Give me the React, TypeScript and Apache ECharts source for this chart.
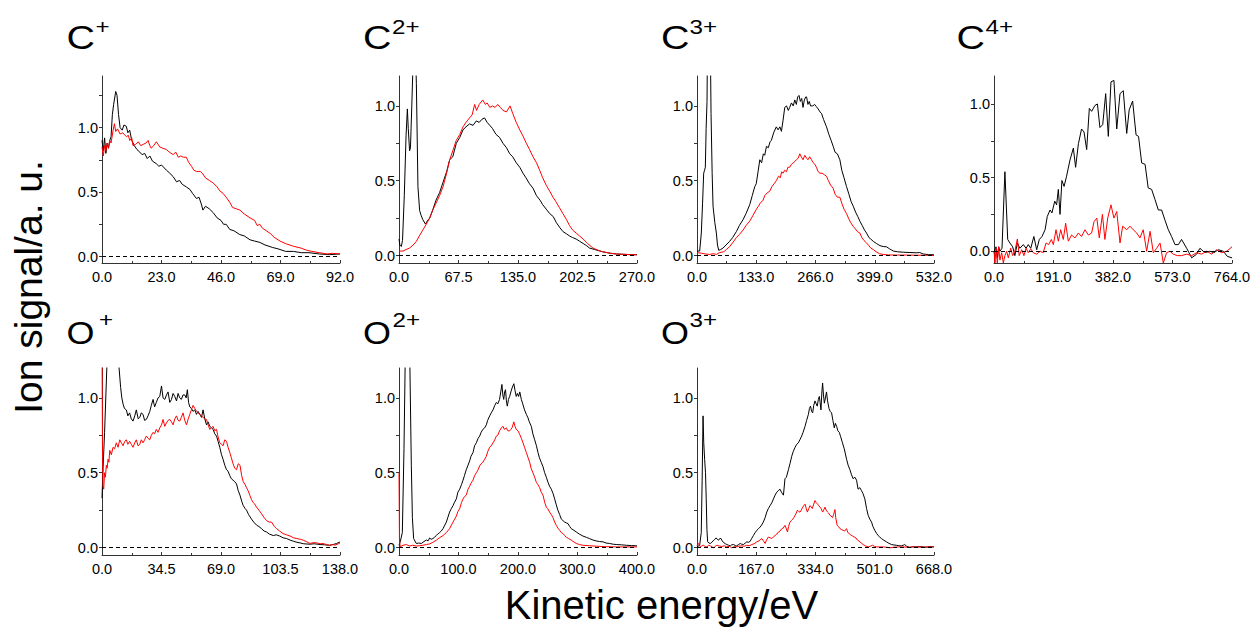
import React, { useEffect, useRef } from "react";
import * as echarts from "echarts";

// ---------- DATA: [kinetic energy (eV), ion signal (a.u.)] ----------
const cPlusBlack = [[0,0.90],[0.5,0.82],[1,0.92],[1.5,0.80],[2,0.88],[2.5,0.84],[3,0.90],[3.5,0.93],[4,1.10],[4.5,1.18],[5.3,1.28],[5.8,1.25],[6.4,1.10],[7,1.00],[7.8,0.98],[8.5,1.02],[9.4,1.01],[10,0.96],[10.7,0.98],[11.5,0.90],[12.5,0.86],[13.5,0.83],[14.6,0.81],[15.5,0.79],[16.5,0.80],[17.5,0.76],[18.5,0.78],[19.5,0.74],[21,0.72],[22,0.70],[23,0.71],[24.9,0.67],[26,0.65],[27.5,0.62],[28.8,0.58],[30,0.59],[31,0.56],[32.6,0.54],[34,0.52],[35,0.49],[36.5,0.45],[37.5,0.46],[38.5,0.40],[39,0.36],[40,0.39],[41.5,0.37],[43,0.34],[44.5,0.30],[46,0.28],[47,0.25],[48,0.25],[49.4,0.21],[51,0.20],[53.3,0.17],[55,0.16],[57.2,0.13],[59,0.12],[61,0.11],[63,0.09],[66,0.07],[68,0.06],[71,0.04],[74,0.04],[77,0.03],[80,0.03],[84,0.02],[88,0.015],[92,0.02]];
const cPlusRed = [[0,0.85],[0.5,0.78],[1,0.86],[1.5,0.82],[2,0.88],[2.5,0.84],[3,0.90],[3.5,0.88],[4.3,0.98],[4.8,1.03],[5.3,0.97],[6,0.99],[7,0.95],[8,0.96],[9.4,0.93],[10.2,0.94],[10.7,0.90],[11.5,0.92],[12,0.86],[13,0.87],[14,0.89],[15,0.86],[15.9,0.87],[17,0.88],[17.8,0.90],[18.5,0.86],[19,0.84],[20,0.86],[21,0.89],[21.7,0.87],[22.3,0.85],[23.5,0.84],[24.9,0.83],[26,0.81],[27.5,0.79],[28.5,0.81],[29.5,0.77],[30.5,0.78],[31.5,0.77],[32.6,0.77],[33.5,0.73],[34.6,0.70],[35.5,0.67],[36.5,0.66],[38,0.66],[39,0.64],[40,0.61],[41.5,0.59],[43,0.57],[44.5,0.54],[45.5,0.51],[46.8,0.49],[48,0.46],[49.4,0.42],[50.5,0.38],[52,0.37],[53.3,0.36],[55,0.33],[57.2,0.30],[59,0.28],[60,0.24],[61,0.25],[62,0.22],[63.5,0.20],[65,0.18],[66.5,0.15],[68.8,0.12],[71,0.10],[74,0.08],[77,0.065],[79,0.05],[81,0.04],[84,0.03],[87,0.02],[89,0.025],[92,0.02]];

const c2Black = [[0,0.11],[1,0.07],[2.6,0.06],[4,0.10],[6,0.40],[8,0.80],[9.5,0.98],[10.5,0.85],[12,0.70],[13,0.72],[14.5,1.00],[16,1.3],[17,1.5],[18.5,1.4],[19.7,1.15],[21.5,0.46],[23.4,0.30],[25,0.27],[27,0.24],[30,0.21],[32,0.23],[34.8,0.25],[38,0.30],[42,0.37],[46,0.42],[50,0.49],[54,0.56],[57.5,0.64],[61,0.66],[65,0.75],[69,0.79],[72.6,0.84],[76,0.86],[80,0.88],[84,0.87],[87.7,0.90],[91,0.89],[94,0.91],[97,0.92],[100,0.89],[103,0.87],[106,0.85],[110,0.81],[114,0.79],[118,0.75],[122,0.72],[125.6,0.68],[129,0.66],[133,0.62],[137,0.59],[140.7,0.55],[144,0.52],[148,0.48],[152,0.45],[156,0.40],[160,0.37],[163,0.34],[167,0.31],[171,0.28],[175,0.26],[178.5,0.22],[182,0.19],[186,0.16],[190,0.145],[193.6,0.13],[197,0.12],[201,0.11],[205,0.095],[209,0.08],[213,0.065],[216,0.05],[222,0.04],[231,0.025],[240,0.015],[246.6,0.01],[255,0.008],[262,0.006],[270,0.005]];
const c2Red = [[0,0.03],[4.5,0.03],[8,0.04],[12,0.05],[16,0.07],[19.7,0.095],[23,0.13],[27,0.17],[31,0.21],[34.8,0.25],[38,0.30],[42,0.35],[46,0.40],[50,0.46],[54,0.55],[57.5,0.64],[61,0.70],[65,0.77],[69,0.81],[72.6,0.86],[76,0.89],[80,0.92],[83,0.94],[85.8,1.01],[88,0.97],[91,1.01],[95,1.04],[98,1.01],[100,1.02],[103,0.99],[106,1.00],[109,0.99],[112,1.01],[115,0.99],[118,0.97],[121.8,0.96],[124,0.98],[126,1.00],[129,0.95],[133,0.89],[137,0.84],[140.5,0.80],[144.5,0.75],[148,0.71],[152,0.66],[156,0.62],[159.6,0.57],[163,0.52],[167,0.47],[171,0.43],[174.7,0.39],[178,0.36],[182,0.32],[186,0.28],[190,0.24],[193.5,0.20],[197,0.17],[201,0.15],[205,0.13],[209,0.11],[214,0.08],[220,0.05],[226,0.035],[231,0.025],[240,0.015],[246.6,0.01],[255,0.008],[262,0.006],[270,0.005]];

const c3Black = [[0,0.03],[6,0.03],[9.7,0.15],[12.5,0.35],[15,0.55],[17,0.57],[18.7,0.59],[20.5,0.85],[22.5,1.03],[24,1.6],[25.5,2.2],[27,2.4],[28.5,2.0],[30,1.4],[31.5,0.95],[34,0.55],[36,0.33],[40,0.22],[43.5,0.15],[46,0.07],[48.7,0.035],[53,0.04],[58.4,0.05],[65,0.07],[73.4,0.095],[80,0.12],[88.4,0.16],[95,0.20],[103.4,0.24],[110,0.28],[118.4,0.34],[124,0.40],[129.6,0.46],[133,0.48],[137,0.56],[141,0.64],[145,0.62],[149,0.68],[152,0.67],[156,0.73],[160,0.72],[164,0.76],[167,0.77],[172,0.82],[178,0.86],[182,0.84],[186,0.86],[189.5,0.83],[193,0.90],[197,0.99],[201,1.00],[205,0.97],[208,0.99],[212,1.02],[216,1.00],[219.5,1.04],[223,1.01],[226,1.06],[229,1.07],[232,1.03],[235,1.05],[238,0.99],[241,1.04],[244,1.06],[246,1.06],[249,1.01],[252,1.03],[255,1.00],[260,1.00],[264,1.01],[268,0.995],[272,0.98],[276,0.96],[279.5,0.95],[284,0.91],[290.7,0.86],[296,0.81],[301,0.77],[305.7,0.73],[310,0.69],[315,0.68],[320.7,0.64],[325,0.57],[330,0.52],[335.7,0.46],[341,0.41],[346,0.36],[350.7,0.33],[356,0.29],[361,0.26],[365.6,0.23],[371,0.20],[376,0.17],[380.6,0.15],[386,0.12],[390,0.11],[395.6,0.095],[403,0.08],[410.6,0.066],[418,0.06],[425.6,0.058],[432,0.045],[440.6,0.03],[450,0.025],[463,0.022],[478,0.02],[493,0.018],[500,0.02],[508,0.01],[520,0.006],[532,0.005]];
const c3Red = [[0,0.02],[10,0.015],[20,0.01],[28.5,0.007],[36,0.012],[44,0.008],[51,0.02],[60,0.025],[66,0.04],[73.4,0.06],[80,0.085],[88.4,0.12],[95,0.14],[103.4,0.17],[110,0.20],[118.4,0.23],[126,0.27],[133.4,0.31],[138,0.33],[142,0.35],[148.4,0.37],[152,0.40],[158,0.42],[163.4,0.43],[168,0.46],[173,0.48],[178,0.50],[183,0.53],[187,0.52],[190,0.56],[193,0.55],[197,0.57],[201,0.56],[204,0.59],[208,0.59],[212,0.61],[216,0.62],[220,0.63],[223,0.64],[227,0.65],[230.8,0.68],[234,0.66],[238,0.64],[242,0.67],[246,0.65],[249,0.64],[253,0.66],[257,0.64],[261,0.62],[264.5,0.61],[268,0.59],[272,0.56],[276,0.55],[281,0.55],[286,0.54],[290.7,0.53],[295,0.50],[300,0.47],[305.7,0.45],[310,0.41],[315,0.39],[320.7,0.39],[325,0.35],[330,0.31],[335.7,0.28],[340,0.25],[345,0.22],[350.7,0.195],[355,0.18],[360,0.16],[365.6,0.15],[370,0.12],[375,0.10],[380.6,0.084],[386,0.065],[390,0.05],[395.6,0.04],[402,0.025],[410,0.012],[418,0.007],[430,0.004],[450,0.003],[470,0.003],[490,0.002],[510,0.002],[532,0.0]];

const c4Black = [[0,-0.01],[6.4,0.03],[10.7,-0.045],[15,0.03],[19,0],[25.7,0.02],[35,0.54],[44,0.08],[51,0.056],[60,0.03],[67,-0.03],[75,0.056],[83,0.02],[94,0.045],[103,0.02],[110,0.045],[118,0.02],[128,0.10],[137,0.01],[145.5,0.08],[154,0.10],[164,0.146],[171,0.236],[180,0.28],[186,0.26],[195,0.34],[201,0.315],[206.5,0.42],[212,0.25],[218,0.48],[225,0.44],[233,0.51],[244,0.62],[254.7,0.70],[262,0.57],[271,0.73],[281,0.83],[289,0.81],[297.5,0.69],[306,0.97],[313.5,0.95],[324,0.99],[332,1.00],[340,0.84],[349,0.86],[358.5,1.07],[367,0.78],[375.5,1.15],[385,1.16],[394,0.83],[404.5,1.07],[415,1.09],[426,0.80],[434,0.96],[445,1.02],[456,0.79],[464,0.78],[474,0.60],[485,0.59],[495,0.43],[506,0.42],[517,0.35],[527.5,0.28],[538,0.28],[549,0.21],[559.6,0.146],[570,0.10],[581,0.045],[592,0.045],[602,0.08],[618.5,0.02],[634.5,-0.045],[650.5,-0.02],[661,0.02],[677,-0.01],[693,0],[706,-0.01],[720,0.01],[736,0],[749,-0.035],[764,-0.045]];
const c4Red = [[0,0],[3.2,-0.08],[6.4,0.02],[10.7,-0.08],[15,0.03],[19,-0.06],[24.6,-0.01],[30,-0.08],[35,-0.03],[40.6,0],[46,-0.045],[53.5,0.02],[60,-0.03],[67,0],[75,0.083],[81,-0.03],[89,0.01],[96,-0.03],[103,0.02],[110,-0.01],[118,0.016],[126,-0.01],[137,-0.02],[148,0],[158,-0.01],[167,0.056],[175.5,0.045],[184,0.08],[190.5,0.045],[199,0.146],[206.5,0.068],[214,0.146],[222.5,0.08],[230,0.19],[238.6,0.068],[249,0.11],[260,0.09],[271,0.124],[281,0.10],[292,0.146],[303,0.11],[313.5,0.124],[321,0.20],[330,0.225],[338,0.09],[348,0.25],[356,0.08],[365,0.225],[375.5,0.315],[385,0.225],[394,0.27],[404.5,0.056],[413,0.17],[426,0.146],[436.6,0.17],[447,0.146],[458,0.124],[468.5,0.09],[479,0.146],[490,0],[501,0.135],[511.5,-0.01],[522,0.02],[533,0.056],[543.5,-0.08],[554,-0.01],[565,0],[575.6,-0.02],[588.5,-0.03],[602,-0.03],[618.5,-0.02],[634.5,-0.03],[650.5,-0.01],[666.5,-0.02],[682.6,0],[698.6,-0.02],[714.7,0.01],[730.8,-0.01],[747,0],[764,0.03]];

const oPlusBlack = [[0,0.33],[0.5,0.5],[1.5,0.77],[2.5,1.1],[3.1,1.3],[4,1.6],[6,1.8],[8,1.5],[9.9,1.2],[10.8,1.07],[11.5,1.00],[12.2,0.96],[13,0.93],[14.1,0.92],[15,0.88],[16,0.90],[17,0.86],[18,0.845],[19,0.88],[19.9,0.92],[21,0.86],[21.9,0.87],[22.8,0.90],[23.8,0.89],[24.7,0.85],[25.7,0.856],[26.7,0.88],[27.7,0.91],[28.6,0.95],[29.6,0.99],[30.5,0.94],[31.5,0.97],[32.5,1.00],[33.5,1.01],[34.5,1.08],[35.4,1.00],[36.4,0.99],[37.4,1.02],[38.3,1.04],[39.3,0.97],[40.3,0.99],[41.2,1.03],[42.2,1.01],[43.2,0.98],[44.1,1.03],[45.1,1.00],[46,0.99],[47,1.02],[48,1.02],[48.8,1.00],[49.5,1.055],[50.2,0.97],[50.9,0.94],[51.8,0.93],[52.8,0.91],[53.8,0.92],[54.8,0.89],[55.7,0.91],[56.7,0.89],[57.7,0.87],[58.6,0.92],[59.6,0.86],[60.6,0.82],[61.5,0.84],[62.5,0.81],[63.5,0.80],[64.4,0.79],[65.4,0.76],[66.4,0.745],[67.3,0.71],[68.3,0.67],[69.3,0.62],[70.2,0.59],[71.2,0.55],[72.2,0.52],[73.1,0.51],[74.1,0.48],[75,0.46],[76,0.45],[77,0.44],[78,0.425],[79,0.38],[80,0.35],[81,0.31],[81.9,0.28],[83,0.26],[83.8,0.25],[85,0.22],[86.7,0.19],[88,0.17],[89.6,0.15],[91,0.14],[92.5,0.126],[94,0.11],[95.4,0.104],[97,0.09],[99.3,0.08],[101,0.085],[103,0.077],[105,0.065],[107,0.06],[109,0.05],[111,0.042],[113,0.035],[114.8,0.031],[117,0.025],[120.6,0.022],[123,0.025],[126.4,0.02],[129,0.018],[132,0.015],[134,0.02],[136,0.027],[138,0.037]];
const oPlusRed = [[0,1.4],[0.3,0.6],[0.6,0.41],[1,0.39],[1.5,0.50],[2,0.47],[2.5,0.55],[3,0.53],[3.5,0.59],[4,0.57],[4.5,0.65],[5.4,0.62],[6.4,0.67],[7.3,0.66],[8.3,0.70],[9.3,0.67],[10.3,0.72],[11.2,0.70],[12.2,0.68],[13.2,0.71],[14.1,0.72],[15,0.69],[16,0.71],[17,0.69],[18,0.67],[19,0.70],[19.9,0.72],[20.9,0.68],[21.9,0.69],[22.8,0.72],[23.8,0.70],[24.7,0.72],[25.7,0.745],[26.7,0.73],[27.7,0.72],[28.6,0.75],[29.6,0.77],[30.5,0.76],[31.5,0.79],[32.5,0.77],[33.5,0.80],[34.5,0.82],[35.4,0.856],[36.4,0.81],[37.4,0.834],[38.3,0.85],[39.3,0.856],[40.3,0.84],[41.2,0.82],[42.2,0.86],[43.2,0.88],[44.1,0.85],[45.1,0.845],[46,0.87],[47,0.90],[48,0.85],[49,0.82],[50,0.86],[50.9,0.89],[51.8,0.92],[52.8,0.95],[53.8,0.93],[54.8,0.91],[55.7,0.90],[56.7,0.89],[57.7,0.88],[58.6,0.87],[59.6,0.86],[60.6,0.856],[61.5,0.82],[62.5,0.79],[63.5,0.80],[64.4,0.81],[65.4,0.78],[66.4,0.79],[67.3,0.74],[68.3,0.70],[69.3,0.69],[70.2,0.68],[71.2,0.72],[72.2,0.71],[73.1,0.67],[74.1,0.635],[75,0.60],[76,0.56],[77,0.53],[78,0.52],[79,0.56],[80,0.55],[81,0.48],[81.9,0.44],[83,0.42],[83.8,0.40],[84.7,0.38],[85.7,0.35],[86.7,0.32],[87.7,0.30],[88.6,0.29],[89.6,0.27],[91,0.25],[92.5,0.226],[94,0.20],[95.4,0.18],[97,0.17],[98.3,0.17],[100,0.14],[101.2,0.126],[103,0.11],[105,0.093],[107,0.085],[109,0.077],[111,0.065],[113,0.06],[115,0.055],[116.7,0.049],[118.5,0.04],[120.6,0.027],[122.5,0.033],[124.4,0.031],[126.5,0.025],[128.3,0.027],[130,0.02],[132,0.015],[134,0.02],[135,0.015],[137,0.025],[138,0.031]];

const o2Black = [[0,0.015],[2.2,0.04],[5.6,0.10],[8.4,0.66],[10.6,1.3],[12,2.0],[14,2.3],[16,2.0],[18,1.3],[20.7,0.55],[22.5,0.2],[24.6,0.06],[29,0.027],[33,0.03],[37.5,0.027],[42,0.04],[46,0.05],[49,0.045],[51.5,0.064],[54,0.055],[57,0.06],[60,0.07],[62.7,0.08],[65,0.09],[68.3,0.10],[71,0.11],[74,0.126],[77,0.15],[79.6,0.17],[82,0.20],[85,0.237],[88,0.26],[90.8,0.28],[93,0.30],[96.4,0.325],[99,0.37],[102,0.39],[105,0.42],[107.6,0.45],[110,0.48],[113,0.52],[116,0.55],[118.8,0.58],[121,0.61],[124.4,0.635],[127,0.68],[130,0.70],[133,0.73],[135.6,0.745],[138,0.77],[141,0.79],[144,0.80],[146.8,0.82],[149,0.85],[152.4,0.88],[155,0.90],[158,0.92],[161,0.95],[163.6,0.97],[166,0.96],[169,0.99],[171,1.04],[173,1.09],[174.5,1.02],[176,0.99],[177.5,1.04],[179,1.055],[180.5,0.98],[182,0.945],[184,0.99],[186,1.01],[188,1.04],[190,1.066],[193,1.095],[195,1.05],[197,1.01],[199,1.03],[201,1.01],[203,1.04],[205.6,0.99],[208,0.96],[211,0.92],[214,0.89],[216.8,0.867],[219,0.84],[222.4,0.81],[225,0.76],[228,0.72],[231,0.68],[233.6,0.635],[236,0.60],[239,0.57],[242,0.54],[244.8,0.50],[247.6,0.47],[250.4,0.436],[253,0.41],[256,0.39],[259,0.36],[261.6,0.325],[264,0.29],[267,0.25],[270,0.22],[272.8,0.19],[275.6,0.18],[278.4,0.17],[281,0.165],[284,0.16],[287,0.14],[289.6,0.126],[294,0.115],[298,0.104],[303,0.09],[309,0.077],[315,0.068],[320,0.06],[326,0.05],[331.6,0.044],[337,0.04],[342.9,0.038],[348,0.03],[354,0.027],[360,0.022],[365,0.02],[374,0.018],[382,0.015],[391,0.013],[400,0.011]];
const o2Red = [[0,0.5],[0.8,0.05],[2,0.005],[6.7,0.015],[12.3,0.02],[18,0.01],[23,0.015],[29,0.01],[34,0.012],[40,0.015],[46,0.02],[51.5,0.024],[57,0.035],[62.7,0.049],[68,0.065],[74,0.08],[79.6,0.10],[85,0.126],[88,0.15],[90.8,0.17],[93.6,0.19],[96.4,0.21],[99,0.24],[102,0.26],[105,0.30],[107.6,0.325],[110,0.34],[113,0.35],[116,0.39],[118.8,0.41],[121,0.43],[124.4,0.45],[127,0.48],[130,0.50],[133,0.52],[135.6,0.546],[138,0.56],[141,0.57],[144,0.59],[146.8,0.61],[149,0.64],[152.4,0.67],[155,0.68],[158,0.70],[161,0.72],[163.6,0.745],[166,0.75],[169,0.78],[172,0.80],[174.8,0.81],[177,0.79],[180.4,0.80],[183,0.78],[186,0.78],[188,0.79],[190,0.80],[193,0.84],[195,0.81],[197,0.79],[200,0.78],[202.8,0.757],[205.6,0.73],[208.4,0.70],[211,0.67],[214,0.635],[217,0.60],[219.6,0.57],[222,0.53],[225,0.50],[228,0.47],[230.8,0.436],[233.6,0.42],[236.4,0.40],[239,0.37],[242,0.35],[245,0.30],[247.6,0.27],[250,0.26],[253,0.237],[256,0.22],[258.8,0.20],[261.6,0.17],[264.4,0.148],[267,0.13],[270,0.115],[272.8,0.10],[275.6,0.093],[278.4,0.08],[281,0.07],[285,0.06],[289.6,0.049],[294,0.037],[298,0.027],[303,0.02],[309,0.015],[320,0.012],[331.6,0.009],[345,0.006],[365,0.004],[385,0.004],[400,0.004]];

const o3Black = [[0,0.004],[7.5,0.015],[12,0.10],[14.5,0.45],[17,0.88],[19,0.70],[21.5,0.59],[24,0.50],[26,0.325],[28,0.12],[30,0.038],[34,0.03],[37.5,0.027],[42,0.035],[47,0.049],[50,0.055],[54,0.064],[57,0.055],[61,0.049],[64,0.06],[67.5,0.06],[71,0.045],[75,0.033],[80,0.025],[84,0.02],[89,0.015],[93.7,0.011],[98,0.018],[103,0.02],[108,0.013],[112,0.011],[117,0.02],[122,0.027],[126,0.022],[131,0.02],[136,0.03],[140.5,0.038],[145,0.035],[150,0.042],[154,0.06],[159,0.08],[164,0.10],[168.6,0.115],[173,0.125],[178,0.137],[182,0.15],[187,0.17],[192,0.20],[196.7,0.237],[201,0.26],[206,0.28],[211,0.30],[215.5,0.325],[220,0.35],[225,0.37],[229,0.38],[234,0.39],[238,0.37],[243.6,0.35],[248,0.46],[252,0.47],[257.6,0.52],[262,0.56],[267,0.61],[271,0.64],[276.5,0.67],[281,0.69],[285.7,0.70],[290,0.72],[295,0.745],[299,0.77],[304.5,0.81],[309,0.85],[314,0.89],[317,0.93],[320,0.945],[323,0.91],[326,0.90],[329,0.95],[332.6,0.98],[336,0.96],[339,0.945],[342,0.99],[344.8,1.01],[347,0.97],[349.4,0.92],[352,1.04],[354,1.10],[356.5,1.02],[359,0.965],[362,1.00],[365,1.04],[368,0.98],[372,0.93],[375.5,0.91],[379.4,0.90],[383,0.85],[387,0.80],[390,0.83],[393.5,0.81],[397,0.78],[401,0.77],[405,0.74],[410,0.70],[415,0.66],[421.6,0.59],[426,0.55],[431,0.52],[435,0.49],[440,0.46],[445,0.47],[449.7,0.45],[454,0.39],[459,0.40],[463.7,0.38],[468,0.36],[473,0.325],[478,0.26],[482.5,0.215],[487,0.19],[492,0.17],[496,0.14],[501,0.115],[506,0.095],[510.6,0.08],[515,0.07],[520,0.06],[527,0.048],[534,0.038],[541,0.028],[548,0.02],[555,0.017],[562,0.015],[569,0.012],[576,0.011],[581,0.015],[585.5,0.02],[590,0.01],[599.6,0.0],[608,0.005],[618,0.004],[628,0.006],[637,0.004],[645,0.002],[651,0.004],[660,0.006],[668,0.004]];
const o3Red = [[0,0.011],[4.7,0.027],[9.4,0.004],[14,0.012],[18.7,0.015],[23,0.006],[28,0.004],[33,0.015],[37.5,0.011],[42,0.005],[47,-0.002],[51,0.008],[56,0.015],[63,0.01],[70,0.007],[77,0.012],[84,0.004],[91,0.008],[98,-0.002],[105,0.006],[112,0.004],[119,0.01],[126.5,0.011],[133,0.008],[140.5,0.015],[147,0.012],[154.6,0.02],[161,0.025],[168.6,0.038],[175,0.045],[182.7,0.06],[187,0.045],[192,0.027],[196,0.05],[201,0.07],[206,0.065],[210.8,0.06],[215,0.07],[220,0.08],[225,0.09],[229.5,0.104],[234,0.11],[239,0.126],[243,0.13],[248,0.148],[251,0.13],[255,0.104],[258,0.14],[262,0.17],[266,0.18],[270,0.19],[273,0.20],[276.5,0.215],[280,0.23],[283,0.25],[287,0.24],[290.4,0.237],[294,0.25],[298,0.27],[301,0.28],[304.5,0.29],[308,0.26],[311,0.237],[315,0.26],[318.5,0.28],[322,0.27],[325,0.26],[329,0.29],[332.6,0.314],[336,0.30],[340,0.29],[343,0.28],[346.7,0.27],[350,0.26],[354,0.237],[357,0.25],[360.7,0.27],[364,0.25],[368,0.237],[371,0.23],[374.7,0.215],[378,0.21],[382,0.20],[385,0.22],[388.8,0.254],[391,0.20],[395,0.148],[399,0.14],[403,0.126],[407,0.12],[412,0.115],[416,0.11],[421.6,0.126],[425,0.10],[429,0.093],[433,0.085],[438.4,0.077],[443,0.07],[448,0.064],[452,0.05],[457,0.042],[463,0.03],[468.4,0.02],[475,0.01],[482.5,0.004],[488,0.008],[494.6,0.015],[500,0.008],[506,0.004],[515,0.004],[524.6,0.004],[534,0.002],[543.5,-0.002],[555,0.002],[568,0.004],[581,0.004],[595,0.002],[608,0.004],[618,0.004],[635,0.002],[650,0.004],[668,0.004]];

// ---------- axes / labels ----------
const ionSymbols = ["C", "C", "C", "C", "O", "O", "O"];
const ionCharges = ["+", "2+", "3+", "4+", "+", "2+", "3+"];
const xMaxima = [92, 270, 532, 764, 138, 400, 668];
const xSteps = [23, 67.5, 133, 191, 34.5, 100, 167];
const yMinima = [-0.05, -0.05, -0.05, -0.08, -0.05, -0.05, -0.05];
const yMaxima = [1.4, 1.2, 1.2, 1.19, 1.2, 1.2, 1.2];
const yTickLabels = [0, 0.5, 1.0];
const yTickMarks = [0, 0.25, 0.5, 0.75, 1.0, 1.25];
const blackSeries = [cPlusBlack, c2Black, c3Black, c4Black, oPlusBlack, o2Black, o3Black];
const redSeries = [cPlusRed, c2Red, c3Red, c4Red, oPlusRed, o2Red, o3Red];
const yAxisTitle = "Ion signal/a. u.";
const xAxisTitle = "Kinetic energy/eV";

// ---------- layout (pixels) ----------
const gridLefts = [102, 399, 697, 994, 102, 399, 697];
const gridTops = [76, 76, 76, 76, 368, 368, 368];
const gridWidths = [238, 238, 237, 238, 238, 238, 237];
const gridHeight = 187;
const symbolX = [66.5, 363, 661, 956.5, 66.5, 363, 661];
const chargeX = [95.5, 392, 689.5, 985.5, 99, 392.5, 689.5];

const FONT = "'Liberation Sans', Arial, Helvetica, sans-serif";
const AXIS_COLOR = "#333";

export default function App() {
  const ref = useRef<HTMLDivElement>(null);

  useEffect(() => {
    if (!ref.current) return;
    const chart = echarts.init(ref.current, null, { renderer: "svg" });

    const grid: any[] = [];
    const xAxis: any[] = [];
    const yAxis: any[] = [];
    const series: any[] = [];
    const graphic: any[] = [];

    for (let i = 0; i < 7; i++) {
      grid.push({
        left: gridLefts[i],
        top: gridTops[i],
        width: gridWidths[i],
        height: gridHeight,
        containLabel: false,
        outerBoundsMode: "none",
      });
      xAxis.push({
        type: "value",
        gridIndex: i,
        min: 0,
        max: xMaxima[i],
        interval: xSteps[i],
        axisLine: { show: true, onZero: false, lineStyle: { color: AXIS_COLOR, width: 1 } },
        axisTick: { show: true, inside: true, length: 3, lineStyle: { color: AXIS_COLOR } },
        minorTick: { show: true, splitNumber: 2, length: 2, lineStyle: { color: AXIS_COLOR } },
        splitLine: { show: false },
        minorSplitLine: { show: false },
        axisLabel: {
          color: "#000",
          fontFamily: FONT,
          fontSize: 14.5,
          margin: 6,
          hideOverlap: false,
          showMinLabel: true,
          showMaxLabel: true,
          formatter: (v: number) => v.toFixed(1),
        },
      });
      const marks = yTickMarks.filter((t) => t <= yMaxima[i]);
      yAxis.push({
        type: "value",
        gridIndex: i,
        min: yMinima[i],
        max: yMaxima[i],
        axisLine: { show: true, onZero: false, lineStyle: { color: AXIS_COLOR, width: 1 } },
        axisTick: { show: true, inside: false, length: 3, customValues: marks, lineStyle: { color: AXIS_COLOR } },
        splitLine: { show: false },
        axisLabel: {
          color: "#000",
          fontFamily: FONT,
          fontSize: 14.5,
          margin: 4,
          customValues: yTickLabels,
          formatter: (v: number) => v.toFixed(1),
        },
      });
      series.push({
        type: "line",
        xAxisIndex: i,
        yAxisIndex: i,
        data: blackSeries[i],
        symbol: "none",
        showSymbol: false,
        clip: true,
        lineStyle: { color: "#000", width: 1 },
        z: 3,
        markLine: {
          silent: true,
          symbol: ["none", "none"],
          label: { show: false },
          lineStyle: { color: "#000", width: 1, type: [4, 3] },
          data: [{ yAxis: 0 }],
        },
      });
      series.push({
        type: "line",
        xAxisIndex: i,
        yAxisIndex: i,
        data: redSeries[i],
        symbol: "none",
        showSymbol: false,
        clip: true,
        lineStyle: { color: "#ff0000", width: 1 },
        z: 4,
      });

      const topRow = i < 4;
      graphic.push({
        type: "text",
        x: symbolX[i],
        y: topRow ? 37.5 : 333,
        scaleX: 1.16,
        style: {
          text: ionSymbols[i],
          fontFamily: FONT,
          fontSize: topRow ? 34 : 31,
          fill: "#000",
          align: "left",
          verticalAlign: "middle",
        },
      });
      graphic.push({
        type: "text",
        x: chargeX[i],
        y: topRow ? 27 : 320,
        scaleX: 1.15,
        style: {
          text: ionCharges[i],
          fontFamily: FONT,
          fontSize: 21,
          fill: "#000",
          align: "left",
          verticalAlign: "middle",
        },
      });
    }

    graphic.push({
      type: "text",
      x: 28.7,
      y: 287,
      rotation: Math.PI / 2,
      style: {
        text: yAxisTitle,
        fontFamily: FONT,
        fontSize: 39,
        fill: "#000",
        align: "center",
        verticalAlign: "middle",
      },
    });
    graphic.push({
      type: "text",
      x: 661.5,
      y: 605,
      style: {
        text: xAxisTitle,
        fontFamily: FONT,
        fontSize: 40,
        fill: "#000",
        align: "center",
        verticalAlign: "middle",
      },
    });

    chart.setOption({
      animation: false,
      backgroundColor: "#fff",
      grid,
      xAxis,
      yAxis,
      series,
      graphic,
    });

    return () => chart.dispose();
  }, []);

  return (
    <div
      ref={ref}
      style={{ position: "fixed", left: 0, top: 0, width: 1253, height: 628, background: "#fff" }}
    />
  );
}
